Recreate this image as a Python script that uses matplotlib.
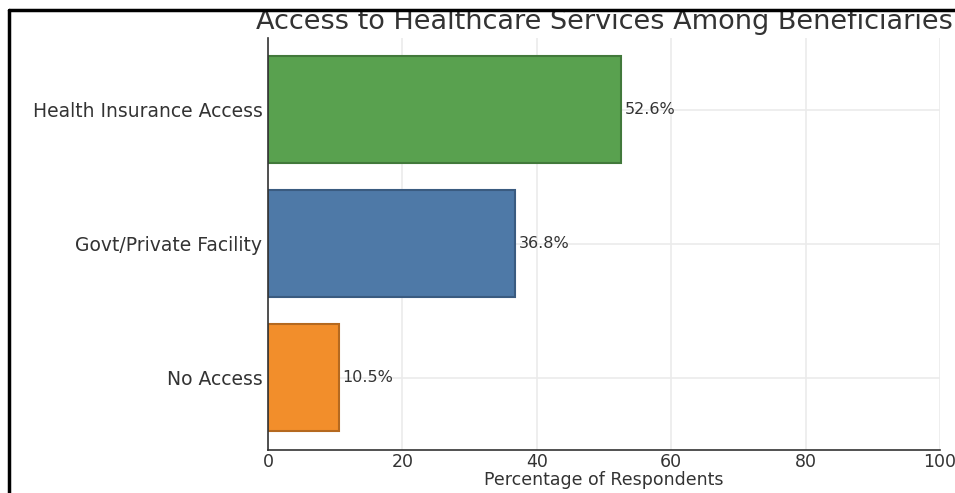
import matplotlib.pyplot as plt
from matplotlib.lines import Line2D
import seaborn as sns

# access categories and share of respondents (%)
categories = ['No Access', 'Govt/Private Facility', 'Health Insurance Access']
percentages = [10.5, 36.8, 52.6]
bar_colors = ['#f28e2b', '#4e79a7', '#59a14f']
edge_colors = ['#b5691f', '#3a5b80', '#42793b']
xticks = [0, 20, 40, 60, 80, 100]

sns.set_style('whitegrid')
plt.rcParams['font.family'] = ['DejaVu Sans']

fig = plt.figure(figsize=(9.55, 4.93), dpi=100)
ax = fig.add_axes([0.2806, 0.0872, 0.7037, 0.8365])

bars = ax.barh(categories, percentages, color=bar_colors, edgecolor=edge_colors,
               linewidth=1.5, height=0.8)

for bar, val in zip(bars, percentages):
    ax.text(bar.get_width() + 0.5, bar.get_y() + bar.get_height() / 2,
            f'{val}%', va='center', ha='left', fontsize=11.5, color='#333333')

ax.set_xlim(0, 100)
ax.set_xticks(xticks)
ax.tick_params(axis='y', labelsize=13.5, colors='#333333', length=0, pad=4)
ax.tick_params(axis='x', labelsize=12.5, colors='#333333', length=0, pad=2)
ax.set_xlabel('Percentage of Respondents', fontsize=12.5, color='#333333', labelpad=0)
ax.set_title('Access to Healthcare Services Among Beneficiaries', fontsize=19.5,
             color='#333333', pad=6)
ax.grid(color='#ebebeb', linewidth=1.2)
for side in ['top', 'right']:
    ax.spines[side].set_visible(False)
for side in ['left', 'bottom']:
    ax.spines[side].set_color('#333333')
    ax.spines[side].set_linewidth(1.2)

# dark frame along the top and left edges
fig.add_artist(Line2D([0.0094, 1.0], [0.9807, 0.9807], color='black', linewidth=2.5,
                      transform=fig.transFigure))
fig.add_artist(Line2D([0.0094, 0.0094], [0.0, 0.9807], color='black', linewidth=2.5,
                      transform=fig.transFigure))

fig.savefig('out.png', dpi=100)
